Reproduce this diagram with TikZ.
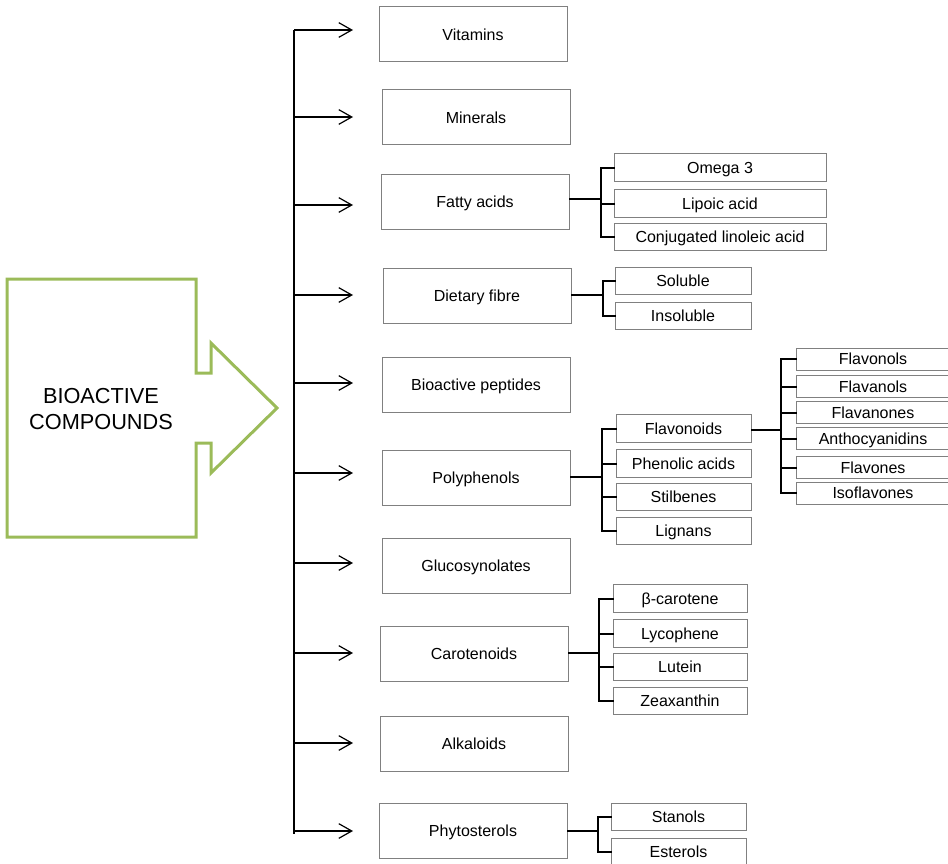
\documentclass[tikz,border=0pt]{standalone}
\usepackage{fontspec}
\setmainfont{Liberation Sans}
\usetikzlibrary{arrows.meta}
\definecolor{boxgray}{RGB}{128,128,128}
\definecolor{leafgreen}{RGB}{155,187,89}
\begin{document}
\begin{tikzpicture}[x=0.75pt,y=-0.75pt,
  boxtext/.style={font=\fontsize{12}{14}\selectfont,text height=0.95em,text depth=0.1em},
  mainbox/.style={draw=boxgray,line width=0.75pt,minimum width=141pt,minimum height=41.25pt,inner sep=0pt,boxtext},
  subbox/.style={draw=boxgray,line width=0.75pt,minimum height=20.5pt,inner sep=0pt,boxtext},
  flavbox/.style={draw=boxgray,line width=0.75pt,minimum width=115.5pt,minimum height=16.5pt,inner sep=0pt,boxtext},
  conn/.style={line width=1.5pt,line cap=rect},
  arr/.style={line width=0.9pt,-{Straight Barb[length=9.75pt,width=11pt,line width=0.9pt]}}]
\useasboundingbox (0,0) rectangle (948,863);
% big green arrow
\draw[leafgreen,line width=2.25pt,line join=miter]
  (7,279) -- (196,279) -- (196,373) -- (211,373) -- (211,343) -- (277,408)
  -- (211,473) -- (211,443) -- (196,443) -- (196,537) -- (7,537) -- cycle;
\node[align=center,font=\fontsize{16.3}{20}\selectfont] (title) at (101,409) {BIOACTIVE\\COMPOUNDS};
% main boxes
\node[mainbox] (vit) at (473,34.5) {Vitamins};
\node[mainbox] (min) at (476,117.5) {Minerals};
\node[mainbox] (fat) at (475,201.5) {Fatty acids};
\node[mainbox] (fib) at (477,295.5) {Dietary fibre};
\node[mainbox] (pep) at (476,384.5) {Bioactive peptides};
\node[mainbox] (pol) at (476,477.5) {Polyphenols};
\node[mainbox] (glu) at (476,565.5) {Glucosynolates};
\node[mainbox] (car) at (474,653.5) {Carotenoids};
\node[mainbox] (alk) at (474,743.5) {Alkaloids};
\node[mainbox] (phy) at (473,830.5) {Phytosterols};
% trunk
\coordinate (ttop) at (294,30);
\coordinate (tbot) at (294,834);
\draw[line width=1.5pt] (ttop) -- (tbot);
\foreach \n/\y in {vit/30,min/117,fat/205,fib/295,pep/383,pol/473,glu/563,car/653,alk/743,phy/831}{
  \coordinate (t\n) at (353,\y);
  \draw[arr] (ttop |- t\n) -- (t\n);
}
% fatty acids
\node[subbox,minimum width=159pt] (o3) at (720,167.5) {Omega 3};
\node[subbox,minimum width=159pt] (lip) at (720,203.5) {Lipoic acid};
\node[subbox,minimum width=159pt] (cla) at (720,237) {Conjugated linoleic acid};
\coordinate (fj) at (601,199);
\draw[conn] (fat.east |- fj) -- (fj);
\draw[conn] (o3.west) -- (fj |- o3.west) -- (fj |- cla.west) -- (cla.west);
\draw[conn] (fj |- lip.west) -- (lip.west);
% dietary fibre
\node[subbox,minimum width=102pt] (sol) at (683,281) {Soluble};
\node[subbox,minimum width=102pt] (ins) at (683,316) {Insoluble};
\coordinate (dj) at (603,295);
\draw[conn] (fib.east |- dj) -- (dj);
\draw[conn] (sol.west) -- (dj |- sol.west) -- (dj |- ins.west) -- (ins.west);
% polyphenols
\node[subbox,minimum width=101.25pt] (fla) at (683.5,428.5) {Flavonoids};
\node[subbox,minimum width=101.25pt] (phe) at (683.5,463.5) {Phenolic acids};
\node[subbox,minimum width=101.25pt] (sti) at (683.5,497) {Stilbenes};
\node[subbox,minimum width=101.25pt] (lig) at (683.5,531) {Lignans};
\coordinate (pj) at (602,477);
\draw[conn] (pol.east |- pj) -- (pj);
\draw[conn] (fla.west) -- (pj |- fla.west) -- (pj |- lig.west) -- (lig.west);
\draw[conn] (pj |- phe.west) -- (phe.west);
\draw[conn] (pj |- sti.west) -- (sti.west);
% flavonoids
\node[flavbox] (f1) at (873,359) {Flavonols};
\node[flavbox] (f2) at (873,386.5) {Flavanols};
\node[flavbox] (f3) at (873,412.5) {Flavanones};
\node[flavbox] (f4) at (873,438.5) {Anthocyanidins};
\node[flavbox] (f5) at (873,467.5) {Flavones};
\node[flavbox] (f6) at (873,493) {Isoflavones};
\coordinate (vj) at (781,430);
\draw[conn] (fla.east |- vj) -- (vj);
\draw[conn] (f1.west) -- (vj |- f1.west) -- (vj |- f6.west) -- (f6.west);
\foreach \f in {f2,f3,f4,f5}{\draw[conn] (vj |- \f.west) -- (\f.west);}
% carotenoids
\node[subbox,minimum width=100.5pt] (bc) at (680,598.5) {β-carotene};
\node[subbox,minimum width=100.5pt] (lyc) at (680,633.5) {Lycophene};
\node[subbox,minimum width=100.5pt] (lut) at (680,667) {Lutein};
\node[subbox,minimum width=100.5pt] (zea) at (680,701) {Zeaxanthin};
\coordinate (cj) at (599,653);
\draw[conn] (car.east |- cj) -- (cj);
\draw[conn] (bc.west) -- (cj |- bc.west) -- (cj |- zea.west) -- (zea.west);
\draw[conn] (cj |- lyc.west) -- (lyc.west);
\draw[conn] (cj |- lut.west) -- (lut.west);
% phytosterols
\node[subbox,minimum width=101.25pt] (sta) at (678.5,817) {Stanols};
\node[subbox,minimum width=101.25pt] (est) at (678.5,852) {Esterols};
\coordinate (sj) at (598,831);
\draw[conn] (phy.east |- sj) -- (sj);
\draw[conn] (sta.west) -- (sj |- sta.west) -- (sj |- est.west) -- (est.west);
\end{tikzpicture}
\end{document}
